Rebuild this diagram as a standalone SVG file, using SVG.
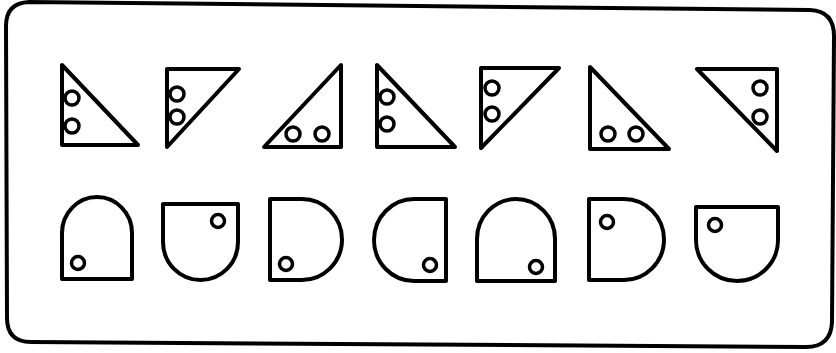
<svg xmlns="http://www.w3.org/2000/svg" width="836" height="353" viewBox="0 0 836 353">
<style>
.s{fill:none;stroke:#000;stroke-width:4;stroke-linejoin:round;stroke-linecap:round}
.c{fill:#fff;stroke:#000;stroke-width:3.5}
</style>
<rect width="836" height="353" fill="#fff"/>
<path id="frame" class="s" d="M6,26 Q6,3 29,2 L810,10 Q834,11 834,36 L832,322 Q831,347 806,347 L31,342 Q7,342 7,318 Z"/>
<g id="t1"><path class="s" d="M62,65 L62,145 L138,145 Z"/><circle class="c" cx="72" cy="98" r="7"/><circle class="c" cx="72" cy="126" r="7"/></g>
<g id="t2"><path class="s" d="M167,69 L239,69 L167,147 Z"/><circle class="c" cx="177" cy="94" r="7"/><circle class="c" cx="177" cy="117" r="7"/></g>
<g id="t3"><path class="s" d="M341,65 L341,147 L264,147 Z"/><circle class="c" cx="293" cy="134" r="7"/><circle class="c" cx="322" cy="134" r="7"/></g>
<g id="t4"><path class="s" d="M377,65 L377,147 L455,147 Z"/><circle class="c" cx="387" cy="97" r="7"/><circle class="c" cx="387" cy="124" r="7"/></g>
<g id="t5"><path class="s" d="M481,68 L559,68 L481,148 Z"/><circle class="c" cx="492" cy="88" r="7"/><circle class="c" cx="492" cy="114" r="7"/></g>
<g id="t6"><path class="s" d="M590,67 L590,149 L669,149 Z"/><circle class="c" cx="608" cy="134" r="7"/><circle class="c" cx="636" cy="134" r="7"/></g>
<g id="t7"><path class="s" d="M697,69 L777,69 L777,151 Z"/><circle class="c" cx="760" cy="88" r="7"/><circle class="c" cx="760" cy="117" r="7"/></g>
<g id="d1"><path class="s" d="M62,279 L62,233 A35,36 0 0 1 132,233 L132,279 Z"/><circle class="c" cx="78" cy="263" r="6.5"/></g>
<g id="d2"><path class="s" d="M163,204 L238,204 L238,242 A37.5,38 0 0 1 163,242 Z"/><circle class="c" cx="218" cy="221" r="6.5"/></g>
<g id="d3"><path class="s" d="M270,199 L302,199 A40,40.5 0 0 1 302,280 L270,280 Z"/><circle class="c" cx="286" cy="264" r="6.5"/></g>
<g id="d4"><path class="s" d="M446,199 L446,281 L414,281 A40,41 0 0 1 414,199 Z"/><circle class="c" cx="430" cy="265" r="6.5"/></g>
<g id="d5"><path class="s" d="M477,281 L477,239 A39,40 0 0 1 555,239 L555,281 Z"/><circle class="c" cx="536" cy="267" r="6.5"/></g>
<g id="d6"><path class="s" d="M589,199 L624,199 A40,40.5 0 0 1 624,280 L589,280 Z"/><circle class="c" cx="607" cy="222" r="6.5"/></g>
<g id="d7"><path class="s" d="M696,207 L778,207 L778,240 A41,41 0 0 1 696,240 Z"/><circle class="c" cx="715" cy="225" r="6.5"/></g>
</svg>
